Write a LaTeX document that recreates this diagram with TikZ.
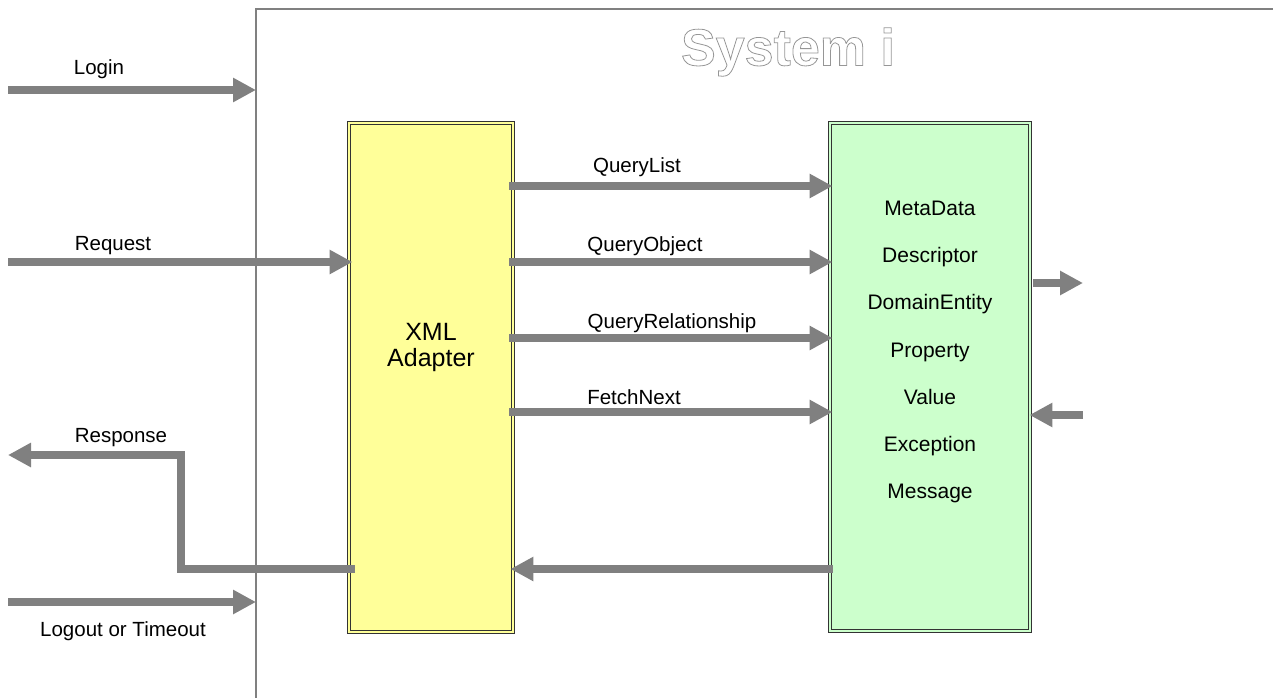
\documentclass[tikz,border=0pt]{standalone}
\usepackage{fontspec}
\setmainfont{Liberation Sans}
\usetikzlibrary{arrows.meta}
\definecolor{arrgray}{RGB}{128,128,128}
\definecolor{titlegray}{RGB}{150,150,150}
\definecolor{ybg}{RGB}{255,255,153}
\definecolor{gbg}{RGB}{204,255,204}
\newcommand{\myoutline}[1]{\special{pdf:literal direct 1 Tr 0.8 w}#1\special{pdf:literal direct 0 Tr}}
\tikzset{
  arr/.style={draw=arrgray, line width=7.5pt, -{Triangle[length=23pt,width=23pt]}},
  lbl/.style={font=\fontsize{20.5}{24}\selectfont, inner sep=0pt},
  frameline/.style={draw=arrgray, line width=1.4pt},
  boxbase/.style={draw=black!80, line width=0.9pt, double distance=2pt, inner sep=0pt},
  ybox/.style={boxbase, fill=ybg, double=ybg},
  gbox/.style={boxbase, fill=gbg, double=gbg},
}
\begin{document}
\begin{tikzpicture}[x=1pt,y=-1pt]
\useasboundingbox (0,0) rectangle (1273,698);
% system frame
\coordinate (sysTR) at (1273,9);
\coordinate (sysTL) at (256,9);
\coordinate (sysBL) at (256,698);
\draw[frameline] (sysTR) -- (sysTL) -- (sysBL);
\node[inner sep=0pt, font=\fontsize{52}{60}\selectfont\bfseries, text=titlegray] (title) at (788,52) {\myoutline{System i}};
% boxes
\node[ybox, minimum width=164pt, minimum height=509pt] (xml) at (431,377.5) {};
\node[gbox, minimum width=200pt, minimum height=508pt] (dom) at (930,377) {};
\node[inner sep=0pt, align=center, font=\fontsize{25}{26}\selectfont] (xmltext) at (431,347) {XML\\Adapter};
\node[inner sep=0pt, align=center, font=\fontsize{21}{47.3}\selectfont] (items) at (930,352) {MetaData\\Descriptor\\DomainEntity\\Property\\Value\\Exception\\Message};
% external coordinates
\coordinate (loginS) at (8,90);
\coordinate (reqS) at (8,262);
\coordinate (respE) at (8,455);
\coordinate (respK1) at (181,569);
\coordinate (respK2) at (181,455);
\coordinate (logoutS) at (8,602);
\coordinate (outE) at (1083,283);
\coordinate (inS) at (1083,415);
% labels
\node[lbl] (login) at (99,69) {Login};
\node[lbl] (request) at (113,246) {Request};
\node[lbl] (response) at (121,438) {Response};
\node[lbl] (logout) at (123,631) {Logout or Timeout};
\node[lbl] (ql) at (637,167) {QueryList};
\node[lbl] (qo) at (645,246) {QueryObject};
\node[lbl] (qr) at (672,323) {QueryRelationship};
\node[lbl] (fn) at (634,397) {FetchNext};
% arrows left
\draw[arr] (loginS) -- (sysTL |- loginS);
\draw[arr, shorten >=-4pt] (reqS) -- (xml.west |- reqS);
\draw[arr] (logoutS) -- (sysTL |- logoutS);
\draw[arr, line join=miter, shorten <=-6pt] (xml.west |- respK1) -- (respK1) -- (respK2) -- (respE);
% middle arrows
\draw[arr, shorten <=-4pt, shorten >=-3pt] (xml.east |- 0,186) -- (dom.west |- 0,186);
\draw[arr, shorten <=-4pt, shorten >=-3pt] (xml.east |- 0,262) -- (dom.west |- 0,262);
\draw[arr, shorten <=-4pt, shorten >=-3pt] (xml.east |- 0,338) -- (dom.west |- 0,338);
\draw[arr, shorten <=-4pt, shorten >=-3pt] (xml.east |- 0,412) -- (dom.west |- 0,412);
\draw[arr, shorten <=-3pt, shorten >=-3pt] (dom.west |- 0,569) -- (xml.east |- 0,569);
% right arrows
\draw[arr, shorten <=3pt] (dom.east |- outE) -- (outE);
\draw[arr, shorten >=-1pt] (inS) -- (dom.east |- inS);
\end{tikzpicture}
\end{document}
